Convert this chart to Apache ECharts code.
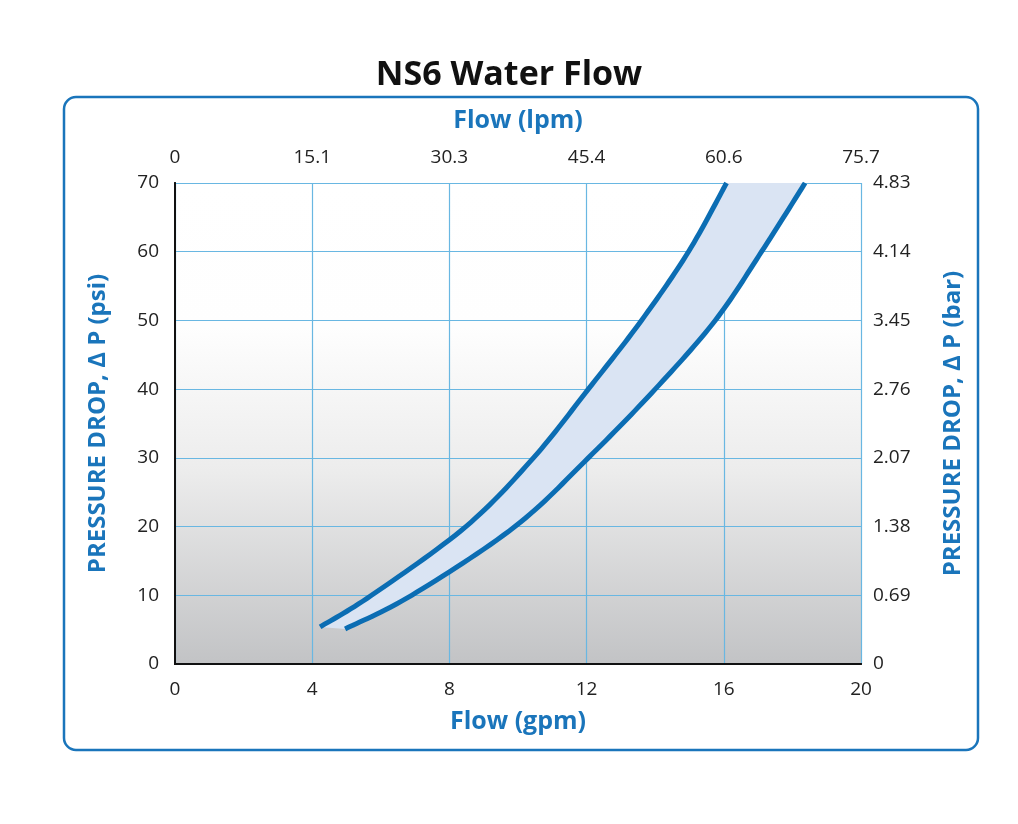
<!DOCTYPE html>
<html><head><meta charset="utf-8">
<script src="https://cdn.jsdelivr.net/npm/echarts@6/dist/echarts.min.js"></script>
<style>html,body{margin:0;padding:0;background:#fff}#c{width:1018px;height:824px}</style>
</head><body><div id="c"></div>
<script>
const gpmTicks = [0, 4, 8, 12, 16, 20];
const lpmLabels = ['0', '15.1', '30.3', '45.4', '60.6', '75.7'];
const psiTicks = [0, 10, 20, 30, 40, 50, 60, 70];
const barLabels = ['0', '0.69', '1.38', '2.07', '2.76', '3.45', '4.14', '4.83'];

const upperFlow = [4.23, 5.73, 8.48, 10.45, 12.05, 13.6, 14.97, 16.08];
const upperPsi  = [5.4, 10, 20, 30, 40, 50, 60, 70];
const lowerFlow = [4.96, 6.9, 9.91, 12.05, 14.0, 15.75, 17.1, 18.37];
const lowerPsi  = [5.1, 10, 20, 30, 40, 50, 60, 70];

const BLUE = '#1a75bb';
const LINE = '#0b6db3';
const FONT = "'Open Sans', sans-serif";

const upper = upperFlow.map((x, i) => [x, upperPsi[i]]);
const lower = lowerFlow.map((x, i) => [x, lowerPsi[i]]);

// Catmull-Rom -> cubic bezier segments in pixel space
function segments(px) {
  const segs = [];
  for (let i = 0; i < px.length - 1; i++) {
    const p0 = px[Math.max(0, i - 1)], p1 = px[i], p2 = px[i + 1], p3 = px[Math.min(px.length - 1, i + 2)];
    segs.push([p1,
      [p1[0] + (p2[0] - p0[0]) / 6, p1[1] + (p2[1] - p0[1]) / 6],
      [p2[0] - (p3[0] - p1[0]) / 6, p2[1] - (p3[1] - p1[1]) / 6],
      p2]);
  }
  return segs;
}
function sample(segs) {
  const out = [];
  segs.forEach((s, k) => {
    for (let j = (k === 0 ? 0 : 1); j <= 16; j++) {
      const t = j / 16, u = 1 - t;
      out.push([
        u*u*u*s[0][0] + 3*u*u*t*s[1][0] + 3*u*t*t*s[2][0] + t*t*t*s[3][0],
        u*u*u*s[0][1] + 3*u*u*t*s[1][1] + 3*u*t*t*s[2][1] + t*t*t*s[3][1]
      ]);
    }
  });
  return out;
}
function curveSeries(pts) {
  return {
    type: 'custom', xAxisIndex: 0, yAxisIndex: 0, data: [0], z: 3,
    renderItem: (params, api) => {
      const segs = segments(pts.map(p => api.coord(p)));
      return { type: 'polyline', shape: { points: sample(segs) },
        style: { stroke: LINE, lineWidth: 5, fill: 'none' } };
    }
  };
}

const chart = echarts.init(document.getElementById('c'));
chart.setOption({
  backgroundColor: '#fff',
  animation: false,
  title: {
    text: 'NS6 Water Flow', left: 'center', top: 53,
    textStyle: { fontFamily: FONT, fontSize: 34, fontWeight: 'bold', color: '#111' }
  },
  graphic: [{
    type: 'rect', z: -1, shape: { x: 64, y: 97, width: 914, height: 653, r: 12 },
    style: { fill: 'none', stroke: BLUE, lineWidth: 2.5 }
  }],
  grid: {
    left: 175, right: 157, top: 183, bottom: 160, show: true,
    borderWidth: 0,
    backgroundColor: new echarts.graphic.LinearGradient(0, 0, 0, 1, [
      { offset: 0, color: '#ffffff' },
      { offset: 0.3, color: '#fefefe' },
      { offset: 0.6, color: '#ececec' },
      { offset: 1, color: '#c2c3c5' }
    ])
  },
  xAxis: [{
    type: 'value', position: 'bottom', min: 0, max: 20, interval: 4,
    name: 'Flow (gpm)', nameLocation: 'middle', nameGap: 45,
    nameTextStyle: { color: BLUE, fontSize: 25, fontWeight: 'bold', fontFamily: FONT },
    axisLine: { show: true, lineStyle: { color: '#111', width: 2 } },
    axisTick: { show: false },
    axisLabel: { margin: 16, fontSize: 19, color: '#222', fontFamily: FONT },
    splitLine: { show: true, lineStyle: { color: '#69b7e2', width: 1.2 } }
  }, {
    type: 'value', position: 'top', min: 0, max: 20, interval: 4,
    name: 'Flow (lpm)', nameLocation: 'middle', nameGap: 50,
    nameTextStyle: { color: BLUE, fontSize: 25, fontWeight: 'bold', fontFamily: FONT },
    axisLine: { show: true, lineStyle: { color: '#111', width: 2 } },
    axisTick: { show: false },
    axisLabel: { margin: 16, fontSize: 19, color: '#222', fontFamily: FONT,
      formatter: v => lpmLabels[gpmTicks.indexOf(v)] },
    splitLine: { show: false }
  }],
  yAxis: [{
    type: 'value', position: 'left', min: 0, max: 70, interval: 10,
    name: 'PRESSURE DROP, Δ P (psi)', nameLocation: 'middle', nameGap: 65, nameRotate: 90,
    nameTextStyle: { color: BLUE, fontSize: 24, fontWeight: 'bold', fontFamily: FONT },
    axisLine: { show: true, lineStyle: { color: '#111', width: 2 } },
    axisTick: { show: false },
    axisLabel: { margin: 16, fontSize: 19, color: '#222', fontFamily: FONT },
    splitLine: { show: true, lineStyle: { color: '#69b7e2', width: 1.2 } }
  }, {
    type: 'value', position: 'right', min: 0, max: 70, interval: 10,
    name: 'PRESSURE DROP, Δ P (bar)', nameLocation: 'middle', nameGap: 80, nameRotate: 90,
    nameTextStyle: { color: BLUE, fontSize: 24, fontWeight: 'bold', fontFamily: FONT },
    axisLine: { show: true, lineStyle: { color: '#111', width: 2 } },
    axisTick: { show: false },
    axisLabel: { margin: 12, fontSize: 19, color: '#222', fontFamily: FONT,
      formatter: v => barLabels[psiTicks.indexOf(v)] },
    splitLine: { show: false }
  }],
  series: [{
    type: 'custom', xAxisIndex: 0, yAxisIndex: 0, data: [0], z: 1,
    renderItem: (params, api) => {
      const up = sample(segments(upper.map(p => api.coord(p))));
      const lo = sample(segments(lower.map(p => api.coord(p)))).reverse();
      return { type: 'polygon', shape: { points: up.concat(lo) },
        style: { fill: '#dae4f3', stroke: 'none' } };
    }
  }, curveSeries(upper), curveSeries(lower)]
});
</script></body></html>
